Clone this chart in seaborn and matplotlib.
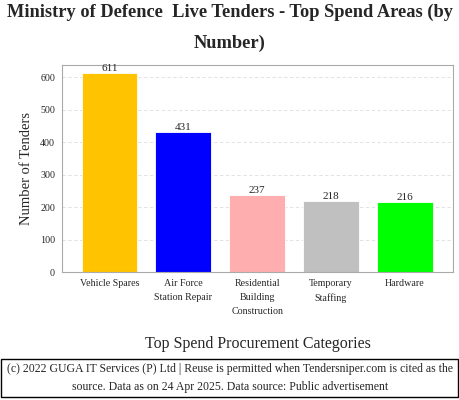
import matplotlib
matplotlib.use("Agg")
import matplotlib.pyplot as plt
import seaborn as sns
import pandas as pd
from matplotlib.patches import Rectangle

# Data
categories = ["Vehicle Spares", "Air Force\nStation Repair", "Residential\nBuilding\nConstruction",
              "Temporary\nStaffing", "Hardware"]
tenders = [611, 431, 237, 218, 216]
bar_colors = ["#FFC300", "#0000FF", "#FFAEB0", "#C0C0C0", "#00FF00"]

sns.set_style("white")
plt.rcParams['font.family'] = ['Liberation Serif', 'DejaVu Serif']

df = pd.DataFrame({"category": categories, "tenders": tenders})

fig = plt.figure(figsize=(4.6, 4.0), dpi=100)
ax = fig.add_axes([62 / 460, 1 - 272 / 400, 391 / 460, 207 / 400])

sns.barplot(data=df, x="category", y="tenders", hue="category", palette=bar_colors,
            legend=False, width=0.75, saturation=1, ax=ax, edgecolor="white", linewidth=0.6)

for container in ax.containers:
    ax.bar_label(container, fmt="%d", fontsize=8, padding=0)

ax.set_xlim(-0.64, 4.65)
ax.set_ylim(0, 637)
ax.set_yticks([0, 100, 200, 300, 400, 500, 600])
ax.yaxis.grid(True, linestyle=(0, (4, 3)), color="#dddddd", linewidth=0.6)
ax.set_axisbelow(True)
for s in ax.spines.values():
    s.set_color("#aaaaaa")
    s.set_linewidth(0.8)
ax.tick_params(axis="both", labelsize=7.2, length=2, color="#aaaaaa", pad=3)
plt.setp(ax.get_xticklabels(), linespacing=1.75)

ax.set_xlabel("Top Spend Procurement Categories", fontsize=11.5, labelpad=14)
ax.set_ylabel("Number of Tenders", fontsize=10.5, labelpad=5)

fig.text(0.5, 0.99, "Ministry of Defence  Live Tenders - Top Spend Areas (by\nNumber)",
         ha="center", va="top", fontsize=13.2, fontweight="bold", linespacing=2.0)

# Footer box
fig.add_artist(Rectangle((1 / 460, 3 / 400), 457 / 460, 38 / 400, transform=fig.transFigure,
                         fill=False, edgecolor="black", linewidth=1))
fig.text(0.5, 22 / 400,
         "(c) 2022 GUGA IT Services (P) Ltd | Reuse is permitted when Tendersniper.com is cited as the\n"
         "source. Data as on 24 Apr 2025. Data source: Public advertisement",
         ha="center", va="center", fontsize=8.5, linespacing=1.75)

fig.savefig("out.png", dpi=100)
